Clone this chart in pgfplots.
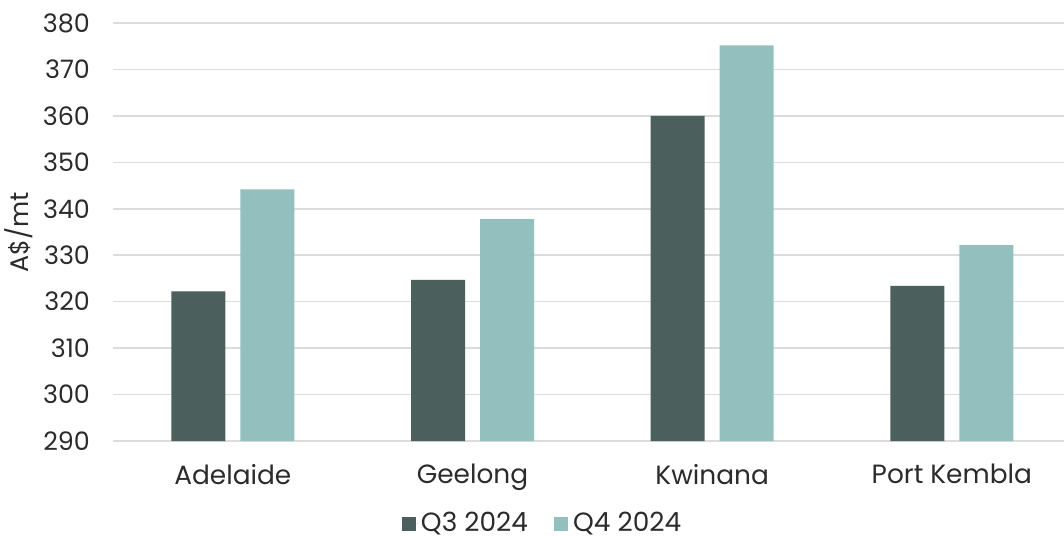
\documentclass[border=0pt]{standalone}
\usepackage{fontspec}
\setmainfont{Poppins}
\usepackage{pgfplots}
\pgfplotsset{compat=1.18}
\definecolor{qthree}{HTML}{4B5F5D}
\definecolor{qfour}{HTML}{93BFBF}
\definecolor{gridc}{HTML}{DCDCDC}
\definecolor{txt}{HTML}{2B2B2B}
\begin{document}
\begin{tikzpicture}
\path[use as bounding box] (-56.5pt,-47.5pt) rectangle (475.5pt,220.5pt);
\begin{axis}[
  at={(0,0)}, anchor=south west,
  scale only axis, width=475.5pt, height=209pt,
  xmin=-0.5, xmax=3.468, ymin=290, ymax=380,
  ytick={290,300,...,380},
  xtick={0,1,2,3},
  xticklabels={Adelaide,Geelong,Kwinana,Port Kembla},
  axis line style={draw=none},
  major tick length=0pt,
  ymajorgrids, grid style={gridc, line width=0.8pt},
  yticklabel style={font=\fontsize{12.7}{15}\selectfont, text=txt, xshift=-8pt},
  xticklabel style={font=\fontsize{13.2}{15}\selectfont, text=txt, yshift=-8pt},
  /pgf/number format/assume math mode=true,
  ylabel={A\$/mt},
  ylabel style={font=\fontsize{12.7}{15}\selectfont, text=txt, at={(rel axis cs:0,0.5)}, yshift=47pt, anchor=center},
  legend style={at={(0.452,-41pt)}, anchor=center, draw=none, legend columns=2,
    font=\fontsize{13.2}{15}\selectfont, text=txt, inner sep=0pt,
    nodes={inner xsep=1.2pt, inner ysep=2pt},
    /tikz/every even column/.append style={column sep=12pt}},
  legend image code/.code={\fill[#1] (0pt,-4pt) rectangle (6.8pt,2.8pt); \path (0pt,0pt) -- (8.2pt,0pt);},
]
\addplot[ybar, bar width=27pt, bar shift=-17.25pt, fill=qthree, draw=none] coordinates {(0,322.2) (1,324.7) (2,360.0) (3,323.4)};
\addlegendentry{Q3 2024}
\addplot[ybar, bar width=27pt, bar shift=17.25pt, fill=qfour, draw=none] coordinates {(0,344.2) (1,337.8) (2,375.2) (3,332.2)};
\addlegendentry{Q4 2024}
\end{axis}
\end{tikzpicture}
\end{document}
